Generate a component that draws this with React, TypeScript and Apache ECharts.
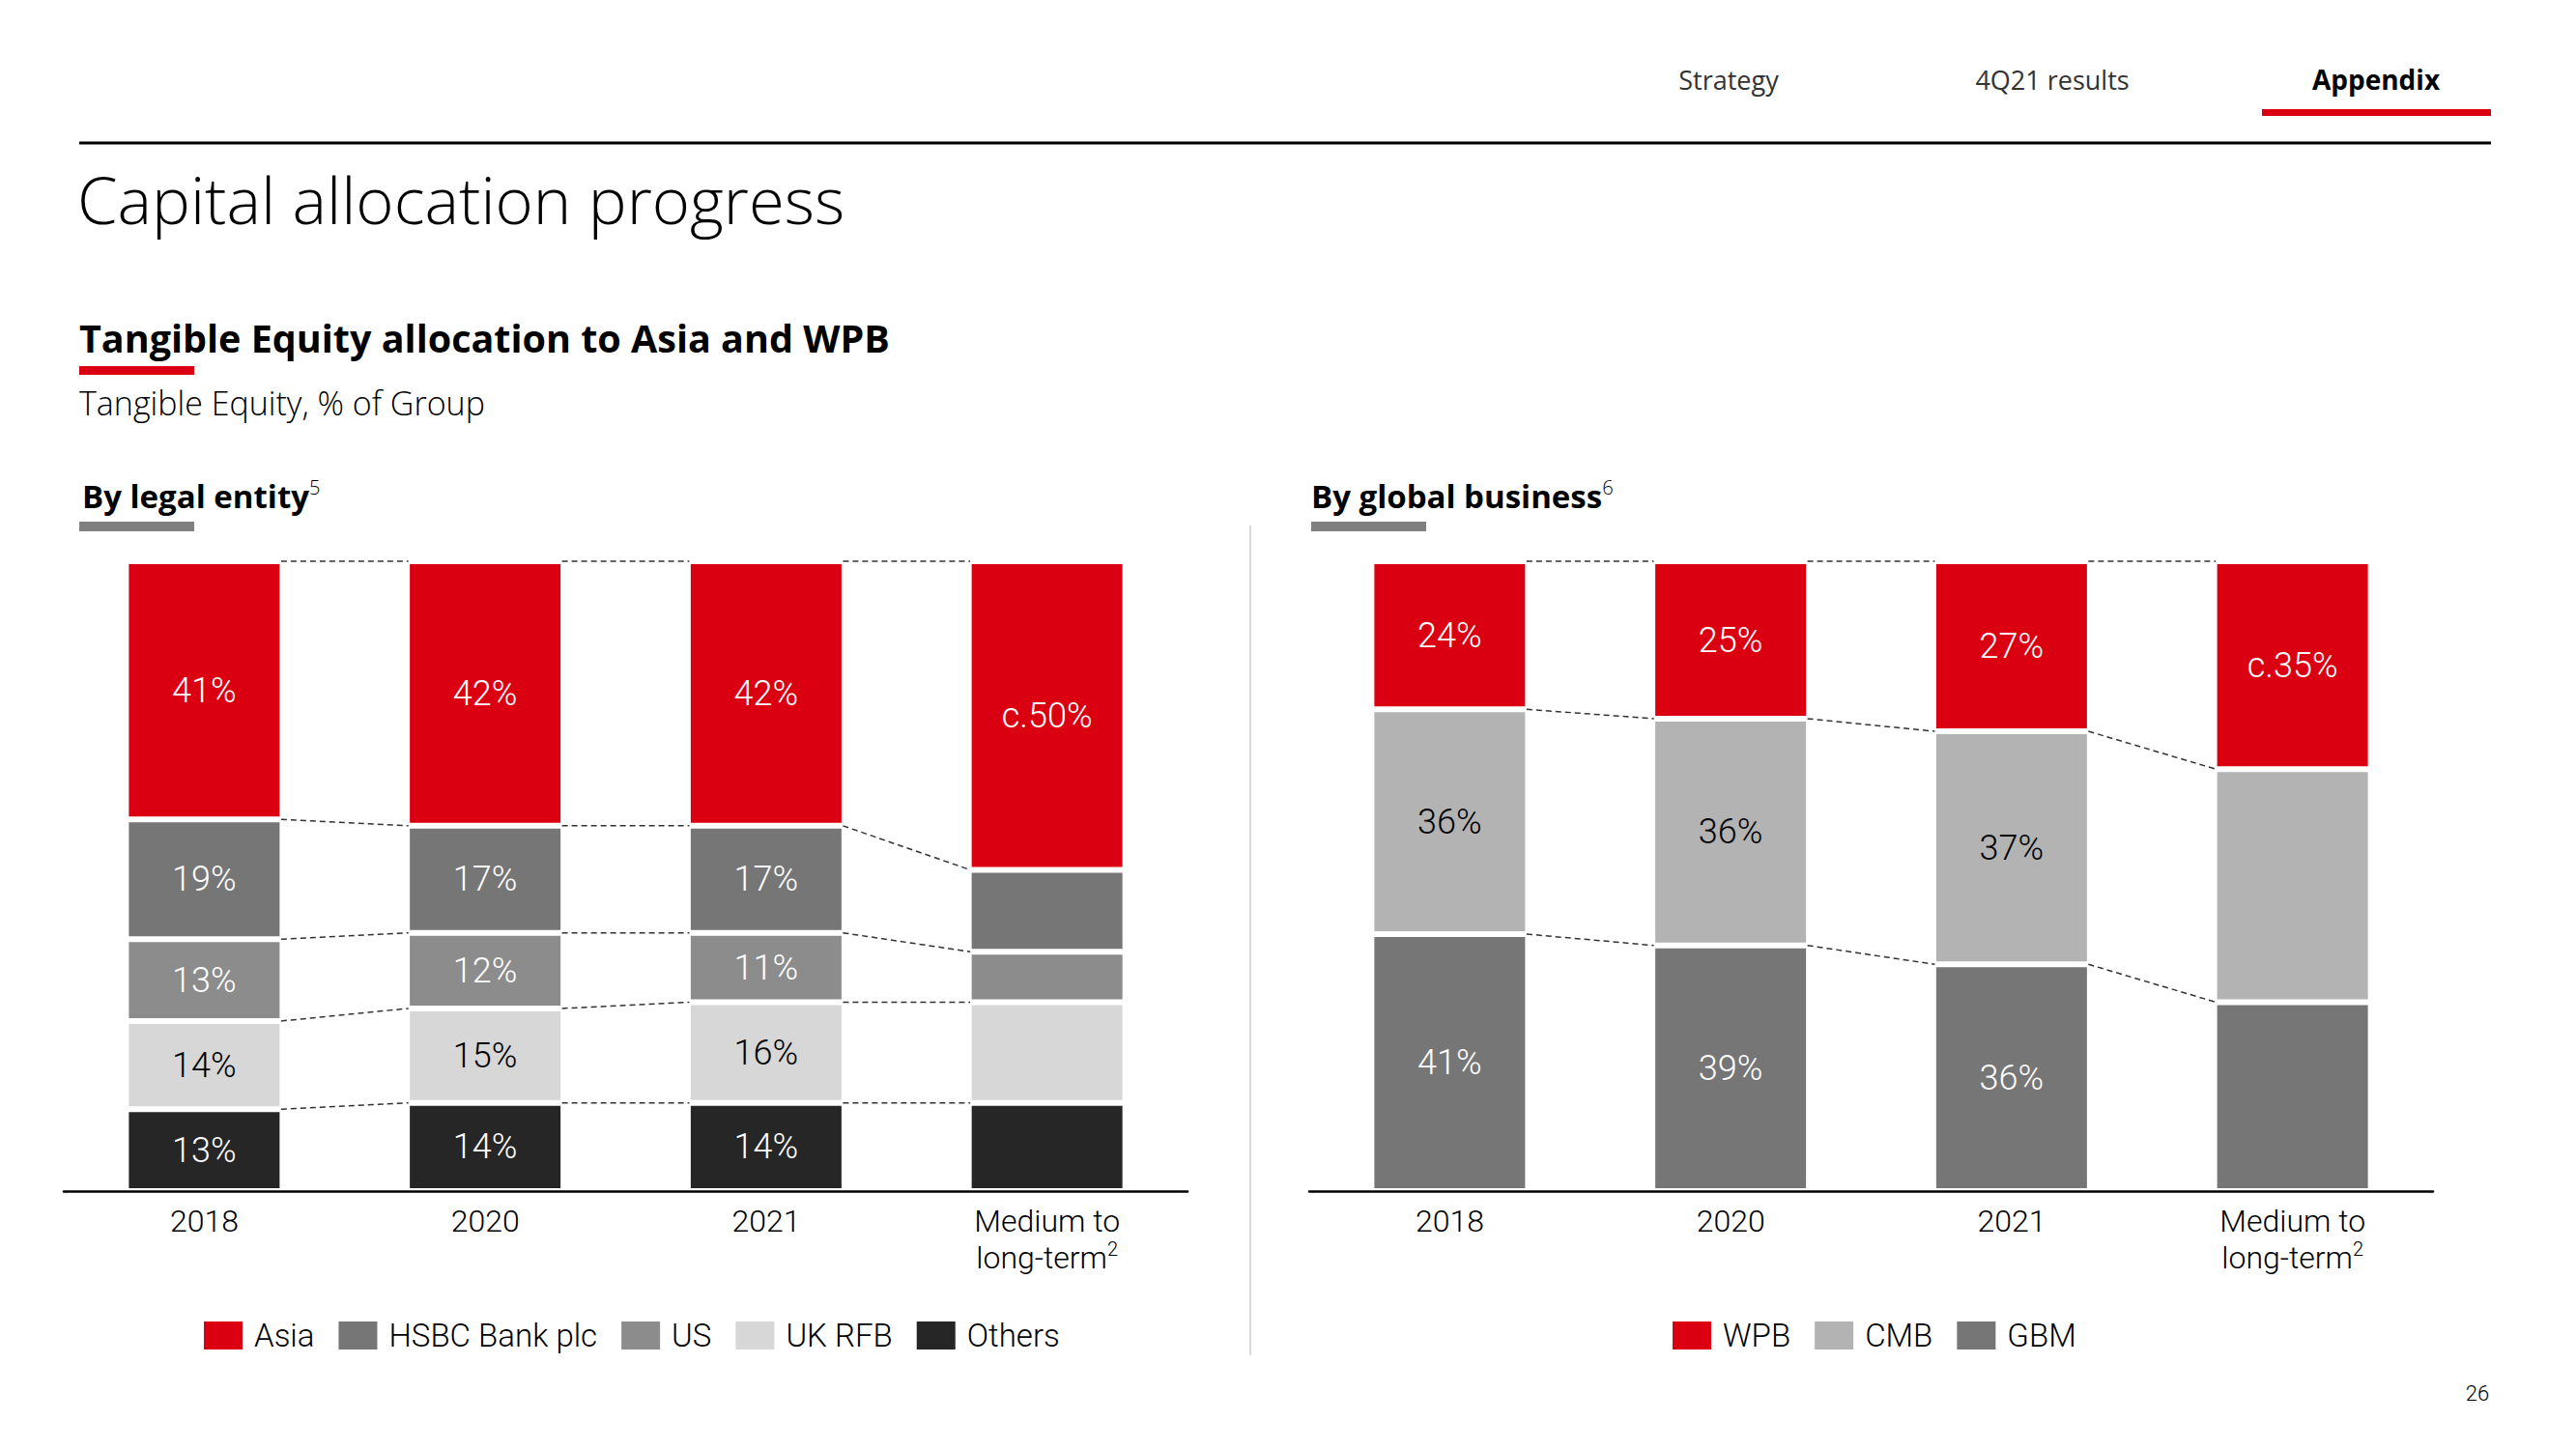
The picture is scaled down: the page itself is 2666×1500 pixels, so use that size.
import React, { useEffect, useRef } from "react";
import * as echarts from "echarts";

// ---------- data ----------
const CATEGORIES = ["2018", "2020", "2021", "Medium to long-term"];

// By legal entity (% of Group tangible equity)
const ASIA = [41, 42, 42, 49];
const HSBC_BANK = [19, 17, 17, 13];
const US = [13, 12, 11, 8];
const UK_RFB = [14, 15, 16, 16];
const OTHERS = [13, 14, 14, 14];
const ASIA_LABELS = ["41%", "42%", "42%", "c.50%"];
const HSBC_BANK_LABELS = ["19%", "17%", "17%", ""];
const US_LABELS = ["13%", "12%", "11%", ""];
const UK_RFB_LABELS = ["14%", "15%", "16%", ""];
const OTHERS_LABELS = ["13%", "14%", "14%", ""];

// By global business
const WPB = [23.5, 25, 27, 33];
const CMB = [35.7, 36, 37, 37];
const GBM = [40.8, 39, 36, 30];
const WPB_LABELS = ["24%", "25%", "27%", "c.35%"];
const CMB_LABELS = ["36%", "36%", "37%", ""];
const GBM_LABELS = ["41%", "39%", "36%", ""];

// ---------- style ----------
const RED = "#db0011";
const FONT = "Roboto";
const HFONT = "Open Sans";
const BAR_W = 162;
const BORDER = 3;

function buildConnectors(stacks: number[][]) {
  // stacks ordered bottom -> top
  const out: number[][] = [];
  const n = CATEGORIES.length;
  const cum: number[][] = [];
  for (let i = 0; i < n; i++) {
    let s = 0;
    const levels: number[] = [];
    for (let k = 0; k < stacks.length; k++) {
      s += stacks[k][i];
      levels.push(s);
    }
    cum.push(levels);
  }
  for (let k = 0; k < stacks.length; k++) {
    for (let i = 0; i < n - 1; i++) {
      out.push([i, cum[i][k], cum[i + 1][k]]);
    }
  }
  return out;
}

function barSeries(
  name: string,
  data: number[],
  labels: string[],
  color: string,
  labelColor: string,
  idx: number,
  stack: string
) {
  return {
    name,
    type: "bar",
    stack,
    xAxisIndex: idx,
    yAxisIndex: idx,
    barWidth: BAR_W,
    data,
    itemStyle: { color, borderColor: "#ffffff", borderWidth: BORDER },
    label: {
      show: true,
      position: "inside",
      color: labelColor,
      fontFamily: FONT,
      fontWeight: 300,
      fontSize: 36,
      formatter: (p: any) => labels[p.dataIndex],
    },
    emphasis: { disabled: true },
  };
}

function connectorSeries(stacks: number[][], idx: number) {
  return {
    type: "custom",
    xAxisIndex: idx,
    yAxisIndex: idx,
    silent: true,
    z: 3,
    data: buildConnectors(stacks),
    encode: { x: 0, y: [1, 2] },
    renderItem: (params: any, api: any) => {
      const i = api.value(0);
      const p1 = api.coord([i, api.value(1)]);
      const p2 = api.coord([i + 1, api.value(2)]);
      const half = BAR_W / 2 - BORDER / 2;
      return {
        type: "line",
        shape: { x1: p1[0] + half, y1: p1[1], x2: p2[0] - half, y2: p2[1] },
        style: { stroke: "#333333", lineWidth: 1.5, lineDash: [6, 4] },
      };
    },
  };
}

const axisLabelRich = {
  a: { fontFamily: FONT, fontWeight: 300, fontSize: 32, lineHeight: 38, color: "#000" },
  s: { fontFamily: FONT, fontWeight: 300, fontSize: 20, lineHeight: 20, color: "#000", verticalAlign: "top" },
};

function xAxis(idx: number) {
  return {
    type: "category",
    gridIndex: idx,
    data: CATEGORIES,
    z: 10,
    axisLine: { lineStyle: { color: "#000", width: 2.5 } },
    axisTick: { show: false },
    axisLabel: {
      margin: 12,
      interval: 0,
      formatter: (v: string) =>
        v === "Medium to long-term" ? "{a|Medium to}\n{a|long-term}{s|2}" : "{a|" + v + "}",
      rich: axisLabelRich,
    },
  };
}

function yAxis(idx: number) {
  return { type: "value", gridIndex: idx, min: 0, max: 100, show: false };
}

function text(x: number, y: number, t: string, size: number, weight: any, align = "left", fill = "#000", family = HFONT) {
  return {
    type: "text",
    x,
    y,
    silent: true,
    style: {
      text: t,
      fontFamily: family,
      fontSize: size,
      fontWeight: weight,
      fill,
      align,
      verticalAlign: "middle",
    },
  };
}

function richHeading(x: number, y: number, main: string, sup: string) {
  return {
    type: "text",
    x,
    y,
    silent: true,
    style: {
      text: "{b|" + main + "}{s|" + sup + "}",
      align: "left",
      verticalAlign: "middle",
      rich: {
        b: { fontFamily: HFONT, fontWeight: 700, fontSize: 33, lineHeight: 38, fill: "#000", color: "#000" },
        s: { fontFamily: HFONT, fontWeight: 300, fontSize: 20, lineHeight: 20, fill: "#000", color: "#000", verticalAlign: "top" },
      },
    },
  };
}

export default function App() {
  const ref = useRef<HTMLDivElement>(null);
  useEffect(() => {
    if (!ref.current) return;
    const chart = echarts.init(ref.current, null, { renderer: "svg" });
    const legendText = { fontFamily: FONT, fontWeight: 300, fontSize: 33, color: "#000", padding: [0, 0, 0, 6] };
    chart.setOption({
      animation: false,
      backgroundColor: "#ffffff",
      grid: [
        { left: 66, top: 581, width: 1163, height: 652 },
        { left: 1355, top: 581, width: 1163, height: 652 },
      ],
      xAxis: [xAxis(0), xAxis(1)],
      yAxis: [yAxis(0), yAxis(1)],
      legend: [
        {
          data: ["Asia", "HSBC Bank plc", "US", "UK RFB", "Others"],
          left: 204,
          top: 1361,
          icon: "rect",
          itemWidth: 42,
          itemHeight: 31,
          itemGap: 23,
          selectedMode: false,
          textStyle: legendText,
        },
        {
          data: ["WPB", "CMB", "GBM"],
          left: 1724,
          top: 1361,
          icon: "rect",
          itemWidth: 42,
          itemHeight: 31,
          itemGap: 23,
          selectedMode: false,
          textStyle: legendText,
        },
      ],
      series: [
        barSeries("Others", OTHERS, OTHERS_LABELS, "#262626", "#ffffff", 0, "le"),
        barSeries("UK RFB", UK_RFB, UK_RFB_LABELS, "#d7d7d7", "#000000", 0, "le"),
        barSeries("US", US, US_LABELS, "#8c8c8c", "#ffffff", 0, "le"),
        barSeries("HSBC Bank plc", HSBC_BANK, HSBC_BANK_LABELS, "#767676", "#ffffff", 0, "le"),
        barSeries("Asia", ASIA, ASIA_LABELS, RED, "#ffffff", 0, "le"),
        connectorSeries([OTHERS, UK_RFB, US, HSBC_BANK, ASIA], 0),
        barSeries("GBM", GBM, GBM_LABELS, "#767676", "#ffffff", 1, "gb"),
        barSeries("CMB", CMB, CMB_LABELS, "#b3b3b3", "#000000", 1, "gb"),
        barSeries("WPB", WPB, WPB_LABELS, RED, "#ffffff", 1, "gb"),
        connectorSeries([GBM, CMB, WPB], 1),
      ],
      graphic: [
        text(1789, 82, "Strategy", 27, 400, "center", "#333333"),
        text(2124, 82, "4Q21 results", 27, 400, "center", "#333333"),
        text(2459, 82, "Appendix", 28, 700, "center", "#000000"),
        { type: "rect", silent: true, shape: { x: 2341, y: 113, width: 237, height: 7 }, style: { fill: RED } },
        { type: "line", silent: true, shape: { x1: 82, y1: 148, x2: 2578, y2: 148 }, style: { stroke: "#000", lineWidth: 3 } },
        text(80, 206, "Capital allocation progress", 67, 300),
        text(82, 350, "Tangible Equity allocation to Asia and WPB", 39.5, 700),
        { type: "rect", silent: true, shape: { x: 82, y: 379, width: 119, height: 9 }, style: { fill: RED } },
        text(82, 417, "Tangible Equity, % of Group", 34, 300),
        richHeading(85, 513, "By legal entity", "5"),
        { type: "rect", silent: true, shape: { x: 82, y: 540, width: 119, height: 10 }, style: { fill: "#808080" } },
        richHeading(1357, 513, "By global business", "6"),
        { type: "rect", silent: true, shape: { x: 1357, y: 540, width: 119, height: 10 }, style: { fill: "#808080" } },
        { type: "line", silent: true, shape: { x1: 1294, y1: 544, x2: 1294, y2: 1403 }, style: { stroke: "#d9d9d9", lineWidth: 2 } },
        text(2564, 1442, "26", 22, 300, "center", "#000", FONT),
      ],
    });
    return () => chart.dispose();
  }, []);
  return (
    <div
      ref={ref}
      style={{ position: "fixed", left: 0, top: 0, width: 2666, height: 1500, background: "#fff" }}
    />
  );
}
